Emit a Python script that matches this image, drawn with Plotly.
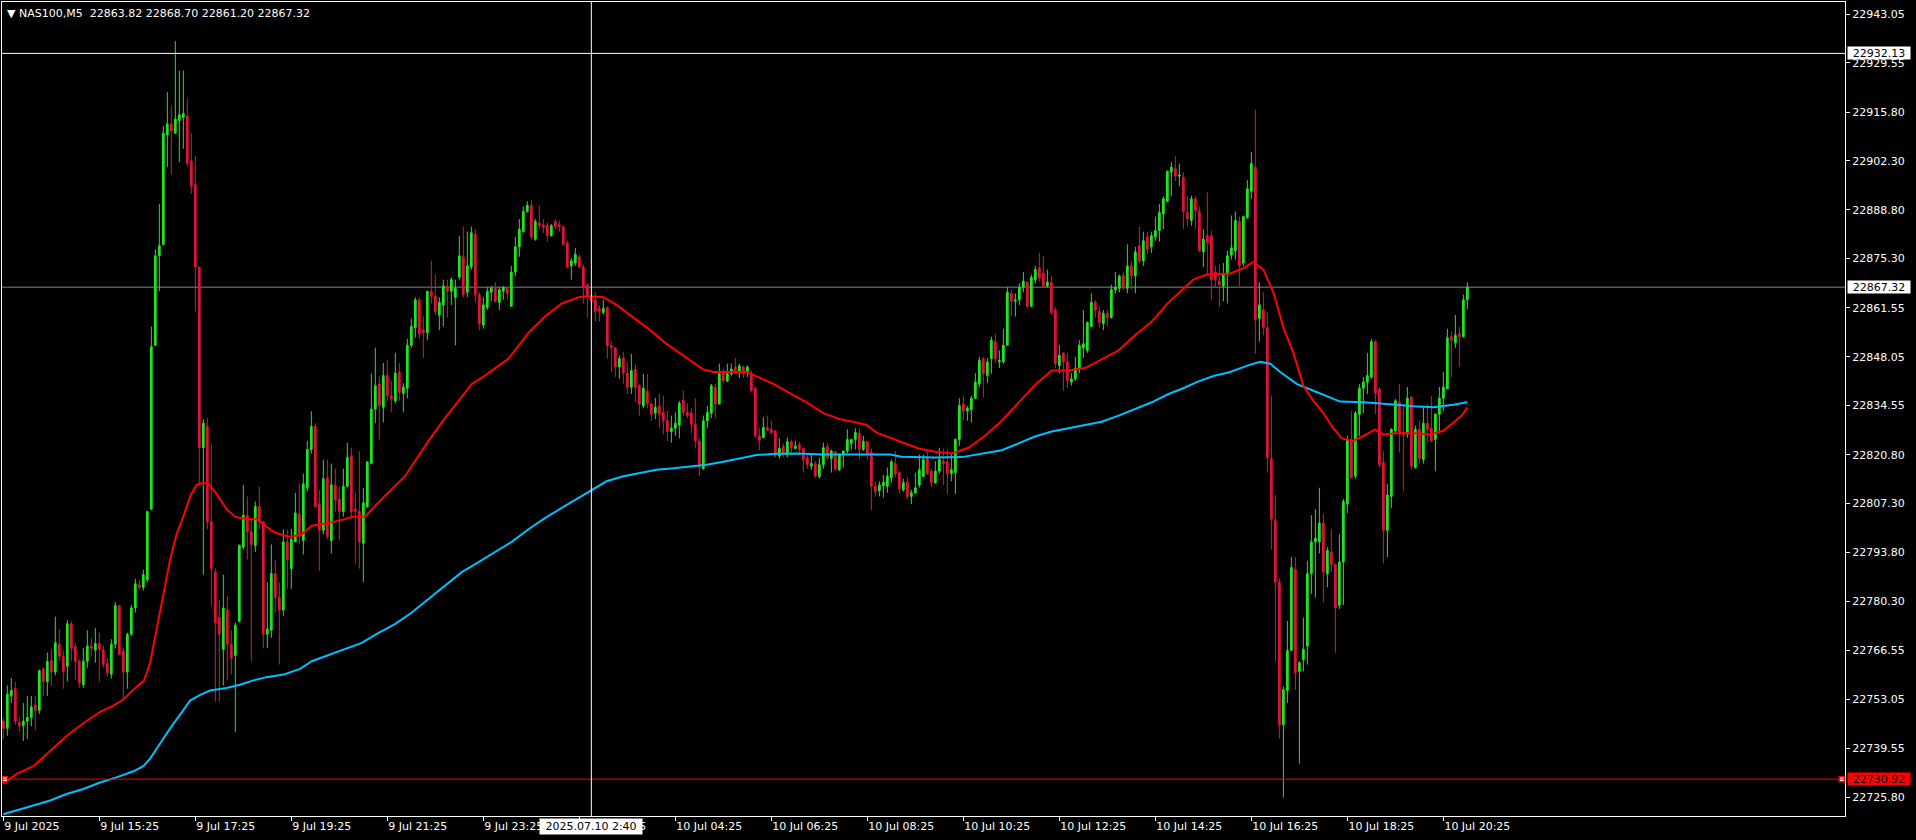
import plotly.graph_objects as go

# ---------------- data ----------------
symbol_title = "NAS100,M5"
last_ohlc = ["22863.82", "22868.70", "22861.20", "22867.32"]

opens = [22747.0,22745.0,22754.0,22756.0,22746.7,22745.7,22747.0,22748.0,22751.5,22750.0,
22761.5,22758.0,22763.8,22760.6,22768.3,22765.0,22762.2,22774.0,22767.6,22763.6,
22757.1,22763.6,22767.8,22766.7,22768.5,22766.7,22763.0,22760.0,22768.3,22779.0,
22766.4,22760.6,22771.1,22778.4,22784.8,22784.1,22786.2,22805.8,22851.2,22876.0,
22879.2,22909.5,22912.6,22910.0,22913.5,22914.4,22914.8,22902.3,22895.8,22872.9,
22822.8,22828.7,22802.3,22788.3,22775.7,22766.9,22777.8,22768.3,22765.2,22774.7,
22795.2,22804.1,22799.5,22795.7,22806.5,22802.3,22771.1,22772.2,22787.9,22781.3,
22777.8,22796.7,22789.3,22796.7,22804.4,22797.1,22811.7,22822.3,22828.7,22807.2,
22799.9,22814.5,22797.1,22812.5,22808.6,22805.1,22812.1,22820.5,22805.8,22805.1,
22796.3,22806.5,22818.4,22833.5,22840.5,22834.0,22842.8,22837.2,22835.8,22843.8,
22837.9,22839.3,22851.2,22856.1,22863.8,22855.4,22854.7,22866.2,22864.8,22859.6,
22862.4,22867.6,22866.2,22864.5,22870.1,22875.7,22865.9,22872.9,22882.0,22865.2,
22856.8,22861.7,22865.9,22867.0,22863.1,22866.2,22867.0,22862.0,22871.5,22878.5,
22882.7,22888.3,22890.0,22880.6,22885.1,22884.6,22884.4,22881.6,22885.5,22884.6,
22884.1,22879.6,22873.2,22874.0,22875.7,22872.9,22868.0,22864.9,22863.8,22861.4,
22860.3,22861.7,22851.1,22850.5,22845.2,22847.7,22843.5,22839.6,22844.5,22840.0,
22834.4,22838.5,22834.9,22832.4,22834.4,22832.6,22830.3,22827.3,22828.2,22829.1,
22836.0,22832.6,22832.4,22829.3,22824.7,22817.0,22830.3,22832.4,22839.6,22834.9,
22843.3,22841.3,22843.3,22845.2,22843.8,22845.2,22843.8,22843.5,22839.3,22826.1,
22825.6,22828.4,22827.9,22827.5,22820.5,22823.1,22820.9,22824.5,22822.6,22823.7,
22822.6,22820.0,22817.7,22818.4,22814.8,22818.1,22823.1,22819.8,22821.7,22816.7,
22820.9,22821.9,22824.0,22825.1,22826.8,22822.3,22824.5,22821.5,22812.1,22810.9,
22812.3,22812.1,22814.5,22818.4,22815.9,22811.1,22813.3,22809.3,22810.3,22812.5,
22814.9,22819.8,22816.3,22813.1,22816.3,22819.1,22818.9,22815.6,22815.9,22825.1,
22834.9,22833.0,22833.3,22836.5,22840.5,22847.5,22842.8,22847.5,22852.2,22846.6,
22846.6,22851.2,22865.6,22863.4,22863.8,22867.3,22868.7,22862.0,22869.4,22872.6,
22871.2,22867.6,22868.7,22861.0,22845.6,22849.1,22846.6,22841.0,22841.9,22844.9,
22850.5,22849.8,22856.4,22863.1,22860.6,22857.2,22860.0,22858.9,22866.6,22867.0,
22870.6,22867.0,22873.2,22870.4,22878.8,22874.6,22881.3,22878.5,22881.3,22883.0,
22887.6,22891.1,22899.2,22900.2,22898.1,22897.8,22888.0,22885.8,22891.8,22888.3,
22877.1,22881.6,22881.6,22871.5,22869.0,22867.6,22870.8,22876.2,22877.4,22885.5,
22874.0,22886.6,22893.9,22900.6,22858.6,22861.0,22856.1,22819.8,22802.6,22785.5,
22746.0,22755.5,22766.6,22789.0,22760.8,22764.0,22767.8,22787.9,22796.7,22796.7,
22801.9,22787.9,22793.9,22790.4,22779.2,22791.1,22807.2,22825.1,22814.9,22832.1,
22839.3,22841.0,22842.4,22852.2,22839.0,22818.7,22799.9,22809.3,22827.5,22835.4,
22827.0,22827.0,22836.8,22817.3,22827.9,22819.5,22829.6,22828.2,22825.1,22832.1,
22836.5,22839.1,22853.6,22851.9,22854.4,22853.6,22863.82]

highs = [22748.0,22756.9,22759.0,22758.0,22748.0,22752.0,22754.0,22754.0,22754.0,22761.3,
22761.8,22766.0,22767.0,22776.0,22772.5,22766.6,22775.0,22774.8,22768.7,22764.1,
22767.3,22772.2,22770.1,22772.8,22771.5,22768.0,22764.5,22769.7,22780.0,22779.0,
22767.3,22771.5,22779.2,22786.5,22786.2,22789.0,22805.1,22856.4,22877.8,22890.4,
22912.0,22921.4,22917.6,22935.5,22927.4,22927.4,22919.7,22910.0,22903.7,22872.9,
22830.7,22831.0,22823.7,22789.3,22780.6,22787.6,22781.7,22772.2,22774.3,22796.0,
22812.5,22809.3,22803.0,22807.9,22812.0,22802.3,22785.5,22796.0,22791.8,22785.5,
22800.2,22800.2,22800.2,22810.3,22813.0,22815.6,22824.7,22832.9,22829.6,22811.1,
22819.5,22819.5,22818.4,22817.0,22812.1,22817.0,22824.2,22822.8,22810.3,22821.9,
22811.7,22818.9,22843.3,22850.5,22842.8,22846.3,22847.0,22841.4,22849.1,22846.3,
22840.7,22853.0,22858.6,22864.5,22864.5,22859.2,22866.2,22874.6,22870.8,22864.5,
22869.4,22869.4,22870.1,22869.4,22881.6,22884.1,22882.7,22884.1,22883.4,22865.9,
22864.5,22867.3,22867.6,22868.7,22867.3,22867.6,22867.3,22873.2,22881.3,22886.2,
22889.7,22891.1,22891.4,22886.2,22890.0,22886.2,22885.2,22884.8,22886.2,22885.8,
22884.4,22880.2,22875.4,22878.2,22876.4,22873.6,22868.0,22865.2,22865.9,22862.4,
22863.8,22862.0,22852.6,22850.5,22848.4,22849.4,22846.6,22848.8,22846.1,22840.5,
22843.3,22843.3,22835.4,22836.6,22837.7,22837.2,22833.0,22831.7,22832.6,22835.8,
22838.6,22835.1,22833.7,22836.5,22825.4,22831.7,22834.4,22840.5,22840.5,22846.1,
22844.7,22846.1,22846.1,22847.7,22846.1,22845.6,22845.6,22844.2,22839.6,22828.2,
22831.2,22831.7,22830.3,22827.5,22825.4,22824.0,22825.6,22825.1,22824.7,22824.5,
22822.8,22820.9,22820.9,22819.1,22820.0,22824.2,22824.2,22822.3,22821.9,22821.2,
22821.9,22827.9,22825.1,22828.2,22828.2,22826.1,22824.5,22822.6,22813.5,22813.5,
22815.3,22817.3,22819.5,22821.9,22816.3,22814.2,22814.7,22811.1,22815.9,22820.9,
22820.9,22822.3,22817.0,22819.1,22822.8,22822.6,22822.3,22821.2,22825.4,22836.5,
22837.2,22834.4,22837.2,22843.5,22848.0,22848.0,22847.7,22853.6,22854.4,22849.8,
22855.8,22867.3,22866.6,22865.6,22868.4,22871.5,22869.0,22870.8,22873.2,22876.8,
22876.0,22872.2,22870.4,22861.7,22851.2,22849.1,22849.1,22843.5,22848.0,22852.6,
22861.0,22857.8,22865.6,22863.8,22862.0,22861.0,22861.0,22868.0,22871.5,22870.8,
22871.5,22879.2,22874.6,22878.5,22884.1,22882.7,22882.7,22882.7,22886.9,22890.4,
22892.5,22899.5,22902.0,22903.7,22901.6,22899.2,22892.5,22892.7,22892.5,22889.7,
22883.4,22893.6,22883.0,22873.2,22873.6,22874.0,22877.4,22887.2,22888.3,22886.9,
22887.2,22897.0,22904.8,22916.5,22868.7,22865.9,22860.3,22837.2,22809.7,22786.5,
22756.6,22774.8,22792.5,22792.5,22763.6,22775.7,22791.5,22804.1,22805.8,22811.7,
22804.4,22795.3,22800.2,22790.7,22798.8,22808.6,22826.1,22833.0,22833.0,22840.5,
22842.4,22849.1,22853.0,22852.6,22839.6,22821.9,22812.8,22828.2,22836.3,22840.5,
22834.9,22839.6,22837.2,22828.9,22830.3,22834.4,22834.9,22837.2,22832.4,22839.6,
22843.8,22855.8,22855.0,22859.6,22856.4,22865.2,22868.70]

lows = [22742.0,22742.9,22752.0,22746.0,22744.0,22741.5,22742.0,22745.6,22744.5,22749.0,
22754.0,22754.0,22756.8,22759.7,22763.6,22756.0,22758.0,22763.6,22758.5,22756.2,
22756.2,22761.8,22765.0,22763.2,22758.0,22761.8,22759.4,22758.8,22767.2,22765.3,
22753.2,22756.0,22770.6,22777.1,22783.4,22783.2,22785.5,22805.5,22851.2,22866.2,
22878.8,22900.6,22898.6,22910.0,22902.0,22905.7,22900.9,22893.2,22860.6,22812.5,
22787.6,22800.2,22779.0,22752.4,22752.4,22756.9,22758.3,22760.0,22744.0,22774.3,
22794.6,22791.8,22763.6,22793.9,22800.2,22767.2,22767.2,22770.1,22777.1,22762.7,
22776.2,22783.7,22783.7,22796.7,22796.0,22793.2,22810.7,22821.2,22806.1,22788.7,
22798.8,22797.4,22793.5,22805.1,22797.1,22803.7,22811.7,22803.0,22790.7,22789.3,
22785.5,22806.1,22818.4,22829.6,22825.1,22829.8,22835.8,22832.6,22835.1,22835.8,
22832.6,22836.5,22850.5,22853.3,22853.0,22847.7,22852.6,22862.8,22859.6,22855.4,
22856.4,22858.9,22862.4,22851.2,22869.4,22864.5,22864.5,22872.2,22863.1,22855.4,
22855.8,22861.0,22863.4,22863.1,22861.0,22863.8,22863.8,22862.0,22870.4,22875.7,
22882.4,22888.0,22880.6,22880.2,22883.4,22882.4,22879.9,22881.3,22883.4,22882.7,
22878.8,22872.6,22869.4,22873.2,22872.6,22862.8,22858.9,22863.1,22857.8,22857.8,
22859.8,22847.5,22843.8,22842.4,22841.9,22840.5,22837.7,22837.7,22835.4,22831.7,
22833.7,22833.7,22830.3,22830.7,22828.2,22826.5,22824.7,22824.2,22826.1,22825.4,
22831.7,22831.0,22826.8,22822.6,22814.9,22816.7,22828.2,22831.0,22831.0,22834.9,
22840.7,22841.0,22842.8,22843.5,22842.1,22842.1,22842.4,22838.2,22825.4,22822.1,
22825.6,22827.3,22826.5,22820.1,22819.8,22820.1,22820.1,22820.9,22822.6,22820.9,
22815.9,22817.0,22816.7,22814.5,22814.2,22817.0,22819.5,22815.9,22816.7,22816.3,
22817.3,22821.2,22822.3,22822.3,22819.5,22821.9,22819.5,22805.5,22809.3,22809.3,
22809.0,22810.3,22813.1,22814.5,22810.0,22810.6,22808.6,22807.2,22810.0,22811.7,
22814.5,22815.3,22811.9,22812.8,22815.6,22812.5,22810.0,22813.5,22810.0,22823.3,
22830.3,22830.3,22829.8,22836.3,22839.6,22836.8,22840.7,22843.3,22846.3,22844.9,
22846.1,22851.2,22859.2,22859.2,22862.4,22865.9,22861.7,22861.7,22868.4,22868.7,
22867.3,22867.3,22859.6,22844.9,22843.5,22838.6,22839.3,22840.0,22841.4,22843.5,
22847.7,22849.1,22856.4,22858.9,22856.1,22855.4,22856.4,22858.6,22865.6,22865.9,
22866.6,22865.6,22866.6,22865.6,22874.0,22873.2,22876.4,22876.8,22880.2,22879.9,
22883.4,22890.8,22892.5,22896.7,22895.3,22883.4,22884.1,22884.4,22883.4,22877.1,
22872.9,22870.4,22863.8,22867.3,22861.7,22863.4,22862.8,22875.0,22875.0,22867.6,
22873.2,22886.2,22891.8,22848.8,22852.2,22854.0,22815.9,22794.6,22763.6,22742.2,
22725.8,22752.0,22766.6,22755.7,22735.2,22760.8,22762.7,22782.3,22781.3,22793.5,
22779.9,22784.1,22788.3,22765.9,22778.1,22779.2,22804.7,22814.2,22814.2,22826.1,
22832.4,22837.7,22841.9,22832.1,22817.3,22790.7,22792.5,22806.1,22826.5,22821.5,
22810.7,22825.6,22817.0,22817.0,22818.4,22818.4,22824.2,22824.2,22816.3,22826.8,
22833.0,22839.1,22842.4,22850.5,22845.2,22853.3,22861.20]

closes = [22745.0,22754.5,22755.5,22747.0,22745.7,22747.0,22748.0,22751.0,22750.0,22761.0,
22758.0,22763.5,22760.6,22768.7,22765.0,22760.8,22774.0,22767.2,22763.6,22757.6,
22763.6,22767.8,22767.2,22768.5,22767.0,22762.7,22760.4,22768.3,22779.0,22765.5,
22760.6,22771.1,22778.4,22785.1,22784.1,22787.6,22805.1,22850.8,22876.0,22878.8,
22910.0,22912.6,22910.6,22913.9,22915.1,22915.5,22901.6,22895.3,22872.9,22822.8,
22829.6,22802.3,22789.3,22774.3,22771.1,22778.4,22768.3,22764.5,22773.6,22795.7,
22804.1,22799.5,22796.0,22806.5,22802.3,22771.1,22772.5,22787.9,22781.3,22777.8,
22796.7,22791.8,22797.4,22804.7,22798.8,22812.8,22822.3,22828.7,22806.5,22799.9,
22814.2,22798.1,22812.5,22808.3,22805.1,22812.1,22820.1,22805.1,22805.1,22796.7,
22807.5,22818.9,22833.5,22840.0,22834.5,22842.8,22837.2,22836.3,22843.5,22838.2,
22839.6,22851.2,22856.4,22863.8,22854.4,22854.7,22866.2,22864.8,22860.6,22863.1,
22867.6,22866.2,22869.4,22867.0,22876.0,22865.2,22873.2,22882.4,22865.2,22857.2,
22862.4,22866.2,22867.0,22863.4,22866.6,22867.3,22865.6,22871.5,22878.5,22883.4,
22888.3,22890.0,22881.3,22885.5,22884.4,22883.8,22881.6,22884.4,22884.1,22884.1,
22879.2,22872.9,22874.6,22876.4,22872.9,22867.3,22864.5,22863.4,22860.6,22860.7,
22861.4,22851.1,22850.5,22845.2,22847.5,22843.5,22839.6,22844.2,22839.6,22834.9,
22839.3,22835.1,22832.1,22834.0,22832.1,22830.3,22827.3,22828.2,22829.6,22835.1,
22832.6,22831.7,22829.3,22824.7,22817.7,22830.3,22832.6,22840.0,22834.9,22843.3,
22841.4,22843.3,22844.6,22844.1,22845.5,22843.8,22845.2,22838.6,22826.1,22824.9,
22828.4,22827.7,22827.0,22820.5,22822.6,22820.9,22824.5,22822.8,22823.3,22822.3,
22819.5,22818.1,22818.4,22814.9,22818.1,22822.8,22820.0,22821.9,22816.7,22820.9,
22821.9,22825.1,22825.1,22827.0,22822.3,22824.5,22821.2,22812.1,22810.7,22812.5,
22813.2,22814.9,22818.9,22815.6,22811.4,22813.1,22809.3,22810.3,22811.7,22816.7,
22819.5,22815.6,22813.1,22816.3,22819.5,22818.4,22815.6,22816.7,22825.1,22834.5,
22833.0,22833.7,22836.5,22841.0,22847.0,22843.3,22846.6,22852.6,22847.5,22847.0,
22851.2,22865.9,22863.4,22863.8,22867.3,22869.0,22862.0,22870.1,22872.2,22869.8,
22867.6,22868.7,22860.3,22846.1,22848.4,22846.6,22841.4,22841.9,22844.9,22851.2,
22851.6,22857.5,22863.1,22861.0,22857.5,22860.0,22858.9,22866.6,22867.3,22870.4,
22867.0,22873.2,22870.4,22877.1,22874.6,22880.2,22877.8,22881.6,22883.0,22888.0,
22891.8,22899.5,22900.6,22898.1,22898.4,22888.3,22886.2,22891.8,22888.6,22877.4,
22880.6,22879.6,22869.4,22869.4,22868.0,22870.8,22876.0,22878.2,22885.8,22873.2,
22886.9,22894.6,22901.6,22858.2,22862.4,22856.1,22820.0,22803.0,22785.5,22746.0,
22755.7,22766.6,22789.6,22760.4,22763.2,22766.9,22787.9,22796.7,22797.7,22801.9,
22788.3,22794.3,22790.4,22778.5,22791.1,22807.9,22825.1,22814.5,22832.4,22839.3,
22841.0,22842.8,22852.2,22837.9,22818.1,22799.9,22809.7,22827.9,22835.8,22826.8,
22826.5,22836.5,22817.7,22827.9,22819.8,22829.6,22827.9,22824.7,22832.1,22836.5,
22839.6,22853.3,22852.6,22854.0,22853.6,22863.8,22867.32]

# fast moving average (red), sampled along the bars
ma_fast_bar = [0,3.3,7.5,11.7,15.8,20,24.2,27.5,30,32.5,35.2,36.7,38.3,40,41.7,43.3,45,46.7,48.3,50,
51.3,53.3,55.8,57.9,60.8,63.3,65,67.5,70,71.7,74.4,77.1,81.3,85.4,87.1,90.4,94.6,100.4,106.3,110.4,
113.8,117.1,120.4,126.3,131.3,135.4,139.6,143.8,146.3,150,153.3,157.5,161.7,165.8,171.7,175,177.5,185.8,188.3,192.5,
196.7,200.8,205,209.2,213.3,215.8,218.3,221.7,224.6,228.8,232.9,237.1,241.3,245.4,249.6,253.8,257.9,262.1,266.3,270.4,
274.6,278.8,282.9,287.1,291.3,295.4,297.5,300.8,306.7,310,312.5,315,317.5,320,322.5,325,327.5,330,332.5,334.6,
337.5,340.8,342.9,345,348.3,352.5,356.7,360,362.5,364.6,366]
ma_fast_val = [22729.6,22732.4,22734.5,22738.7,22742.9,22746.4,22749.6,22751.3,22753.0,22755.7,22758.3,22763.2,22772.2,22782.0,22791.8,22798.8,22803.7,22809.3,22812.5,22813.1,
22812.8,22810.0,22805.8,22803.7,22803.0,22803.0,22801.6,22799.5,22798.5,22798.1,22798.6,22801.2,22801.9,22803.0,22803.7,22803.7,22808.6,22814.9,22824.7,22831.0,
22835.8,22840.5,22842.8,22847.5,22854.7,22859.2,22862.8,22864.5,22864.8,22864.5,22862.4,22858.9,22855.4,22851.6,22847.0,22844.5,22843.8,22843.8,22842.6,22840.5,
22837.9,22835.4,22832.4,22830.7,22829.8,22829.1,22827.0,22825.6,22824.2,22822.6,22821.7,22821.2,22822.8,22826.1,22830.3,22835.4,22840.2,22844.2,22844.2,22844.9,
22847.3,22849.8,22854.0,22857.8,22863.1,22867.3,22869.4,22870.8,22871.1,22872.6,22874.3,22872.2,22865.9,22856.1,22849.1,22840.0,22835.8,22832.4,22828.2,22825.4,
22824.7,22826.5,22827.9,22826.5,22826.8,22826.8,22826.5,22827.5,22829.8,22831.7,22834.0]

# slow moving average (blue)
ma_slow_bar = [0,3.3,7.5,11.7,15.8,20,24.2,28.3,32.5,35,36.7,39.2,41.7,44.2,46.7,49.2,51.7,55.8,59.2,62.5,
65.8,70,74.2,77.1,81.3,85.4,89.6,93.8,97.9,102.1,106.3,110.4,114.6,118.8,122.9,127.1,131.3,135.4,139.6,143.8,
147.9,150.8,155,159.2,163.3,167.5,171.7,175.8,180,184.2,188.3,193.3,198.3,205,211.7,217.5,221.7,224.6,232.9,239.6,
245.4,249.6,253.8,257.9,262.1,266.3,270.4,274.6,278.8,282.9,287.1,291.3,295.4,298.3,302.5,306.7,310.8,314.2,316.7,319.2,
323.3,327.5,331.7,334.2,340,344.2,348.3,352.5,357.5,362.5,366]
ma_slow_val = [22721.2,22722.2,22723.6,22725.0,22726.8,22728.2,22730.0,22731.4,22733.1,22734.5,22736.6,22740.8,22745.0,22748.8,22752.7,22754.3,22755.5,22756.2,22757.1,22758.3,
22759.2,22759.9,22761.5,22763.6,22765.3,22767.0,22768.7,22771.5,22773.9,22777.1,22780.9,22784.5,22788.3,22791.1,22793.9,22796.7,22800.2,22803.3,22806.1,22808.9,
22811.6,22813.5,22814.9,22815.9,22816.7,22817.1,22817.5,22818.1,22818.9,22819.8,22820.8,22821.1,22821.2,22820.9,22820.9,22820.9,22820.9,22820.3,22820.1,22820.2,
22821.2,22822.1,22824.0,22825.9,22827.3,22828.2,22828.9,22830.0,22831.7,22833.5,22835.4,22837.7,22839.5,22841.0,22842.7,22843.8,22845.5,22846.6,22846.1,22843.8,
22840.5,22838.6,22836.8,22835.6,22835.4,22835.1,22834.7,22834.3,22834.0,22834.7,22835.4]

# time axis labels (one every 24 bars)
time_tick_bars = [0,24,48,72,96,120,144,168,192,216,240,264,288,312,336,360]
time_tick_labels = ["9 Jul 2025","9 Jul 15:25","9 Jul 17:25","9 Jul 19:25","9 Jul 21:25","9 Jul 23:25",
                    "10 Jul 02:25","10 Jul 04:25","10 Jul 06:25","10 Jul 08:25","10 Jul 10:25","10 Jul 12:25",
                    "10 Jul 14:25","10 Jul 16:25","10 Jul 18:25","10 Jul 20:25"]

# price axis labels
price_ticks = [22943.05,22929.55,22915.80,22902.30,22888.80,22875.30,22861.55,22848.05,22834.55,
               22820.80,22807.30,22793.80,22780.30,22766.55,22753.05,22739.55,22725.80]
price_tick_labels = ["%.2f" % v for v in price_ticks]

bid_price = 22867.32
crosshair_price = 22932.13
crosshair_bar = 147
crosshair_time = "2025.07.10 2:40"
level_price = 22730.92
level_marker_bars = [0.4, 459.6]

# ---------------- styling ----------------
BULL = "#1EE61E"
BEAR = "#DC143C"
FONT = "DejaVu Sans"

bars = list(range(len(opens)))

fig = go.Figure()

fig.add_trace(go.Candlestick(
    x=bars, open=opens, high=highs, low=lows, close=closes,
    increasing=dict(line=dict(color=BULL, width=1), fillcolor=BULL),
    decreasing=dict(line=dict(color=BEAR, width=1), fillcolor=BEAR),
    whiskerwidth=0, showlegend=False, hoverinfo="skip"))

fig.add_trace(go.Scatter(x=ma_slow_bar, y=ma_slow_val, mode="lines",
                         line=dict(color="#00BFFF", width=2), showlegend=False, hoverinfo="skip"))
fig.add_trace(go.Scatter(x=ma_fast_bar, y=ma_fast_val, mode="lines",
                         line=dict(color="#FF0000", width=2), showlegend=False, hoverinfo="skip"))

fig.add_trace(go.Scatter(x=level_marker_bars, y=[level_price] * len(level_marker_bars), mode="markers",
                         marker=dict(symbol="square", size=5, color="white", line=dict(color="#FF0000", width=1.5)),
                         cliponaxis=False, showlegend=False, hoverinfo="skip"))

shapes = [
    dict(type="line", xref="paper", x0=0, x1=1, yref="y", y0=bid_price, y1=bid_price,
         line=dict(color="#778899", width=1), layer="below"),
    dict(type="line", xref="paper", x0=0, x1=1, yref="y", y0=level_price, y1=level_price,
         line=dict(color="#FF0000", width=1), layer="above"),
    dict(type="line", xref="paper", x0=0, x1=1, yref="y", y0=crosshair_price, y1=crosshair_price,
         line=dict(color="white", width=1), layer="above"),
    dict(type="line", xref="x", x0=crosshair_bar, x1=crosshair_bar, yref="paper", y0=0, y1=1,
         line=dict(color="white", width=1), layer="above"),
]

nb = "\u00a0"
annotations = [
    dict(xref="paper", yref="paper", x=0, y=1, xanchor="left", yanchor="top", xshift=3, yshift=-3,
         text="\u25BC" + nb + symbol_title + nb + nb + " ".join(last_ohlc), showarrow=False,
         font=dict(family=FONT, size=11, color="white")),
    dict(xref="paper", yref="y", x=1, y=crosshair_price, xanchor="left", yanchor="middle", xshift=2,
         text="%.2f" % crosshair_price, showarrow=False, bgcolor="white", width=62, height=12, borderpad=0,
         font=dict(family=FONT, size=11, color="black")),
    dict(xref="paper", yref="y", x=1, y=bid_price, xanchor="left", yanchor="middle", xshift=2,
         text="%.2f" % bid_price, showarrow=False, bgcolor="white", width=62, height=12, borderpad=0,
         font=dict(family=FONT, size=11, color="black")),
    dict(xref="paper", yref="y", x=1, y=level_price, xanchor="left", yanchor="middle", xshift=2,
         text="%.2f" % level_price, showarrow=False, bgcolor="#FF0000", width=62, height=12, borderpad=0,
         font=dict(family=FONT, size=11, color="black")),
    dict(xref="x", yref="paper", x=crosshair_bar, y=0, xanchor="center", yanchor="top", yshift=-2,
         text=crosshair_time, showarrow=False, bgcolor="white", borderpad=1, width=100, height=13,
         font=dict(family=FONT, size=11, color="black")),
]

fig.update_layout(
    width=1916, height=840,
    margin=dict(l=2, r=71, t=2, b=24),
    paper_bgcolor="black", plot_bgcolor="black",
    showlegend=False, boxgap=0.4,
    shapes=shapes, annotations=annotations,
    xaxis=dict(range=[-0.33, 460.4], tickmode="array", tickvals=time_tick_bars, ticktext=time_tick_labels,
               ticks="outside", ticklen=4, tickcolor="white", showline=True, linecolor="white", linewidth=1,
               mirror=True, showgrid=False, zeroline=False, ticklabelposition="outside right",
               tickfont=dict(family=FONT, size=11, color="white"), rangeslider=dict(visible=False),
               fixedrange=True),
    yaxis=dict(side="right", range=[22720.70, 22946.38], tickmode="array", tickvals=price_ticks,
               ticktext=price_tick_labels, ticks="outside", ticklen=4, tickcolor="white",
               showline=True, linecolor="white", linewidth=1, mirror=True, showgrid=False, zeroline=False,
               tickfont=dict(family=FONT, size=11, color="white"), fixedrange=True),
)

fig.write_html("out.html", config={"displayModeBar": False},
               post_script="document.body.style.margin='0';document.body.style.background='black';"
                           "document.body.style.overflow='hidden';")
